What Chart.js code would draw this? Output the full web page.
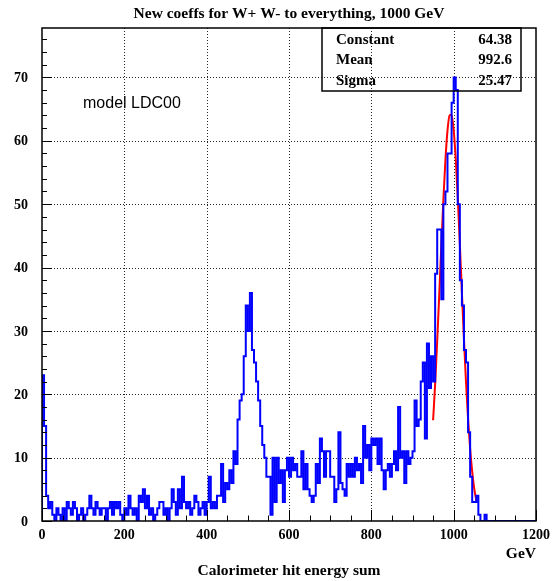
<!DOCTYPE html>
<html>
<head>
<meta charset="utf-8">
<title>Calorimeter hit energy sum</title>
<script src="https://cdn.jsdelivr.net/npm/chart.js@4.4.1/dist/chart.umd.min.js"></script>
<style>
  html, body { margin: 0; padding: 0; background: #fff; }
  #wrap { width: 553px; height: 581px; }
</style>
</head>
<body>
<div id="wrap"><canvas id="histo" width="553" height="581"></canvas></div>
<script>
const title = 'New coeffs for W+ W- to everything, 1000 GeV';
const xTitle = 'Calorimeter hit energy sum';
const xUnit = 'GeV';
const modelLabel = 'model LDC00';

// histogram: 240 bins of 5 GeV from 0 to 1200
const binWidth = 5;
const counts = [
    23, 15, 4, 2, 3, 1, 0, 2, 1, 0,
    2, 0, 3, 2, 1, 3, 2, 0, 1, 2,
    0, 1, 2, 4, 2, 1, 3, 2, 1, 2,
    2, 0, 2, 3, 1, 3, 2, 3, 1, 0,
    2, 1, 4, 2, 1, 2, 0, 4, 3, 5,
    2, 4, 1, 2, 0, 1, 2, 3, 3, 1,
    2, 0, 2, 5, 3, 1, 5, 2, 7, 3,
    2, 3, 1, 2, 4, 3, 1, 2, 3, 1,
    3, 7, 2, 3, 2, 4, 4, 9, 3, 6,
    5, 8, 6, 11, 9, 16, 19, 20, 26, 34,
    30, 36, 27, 25, 22, 19, 15, 12, 10, 7,
    7, 1, 10, 3, 10, 6, 8, 3, 8, 10,
    7, 10, 8, 9, 7, 7, 11, 5, 9, 5,
    4, 3, 4, 9, 6, 13, 11, 7, 11, 11,
    7, 7, 3, 5, 14, 6, 5, 4, 9, 7,
    9, 7, 10, 8, 9, 6, 15, 10, 12, 8,
    13, 12, 13, 9, 13, 8, 5, 8, 9, 7,
    9, 11, 8, 18, 10, 11, 6, 11, 9, 10,
    11, 19, 15, 16, 22, 25, 13, 28, 21, 26,
    22, 39, 46, 46, 35, 50, 52, 58, 58, 66,
    70, 68, 50, 38, 34, 27, 25, 14, 7, 3,
    3, 4, 1, 0, 0, 1, 0, 0, 0, 0,
    0, 0, 0, 0, 0, 0, 0, 0, 0, 0,
    0, 0, 0, 0, 0, 0, 0, 0, 0, 0
];

// gaussian fit curve
const fitX = [950, 955, 960, 965, 970, 975, 980, 985, 990, 995, 1000,
              1005, 1010, 1015, 1020, 1025, 1030, 1035, 1040, 1045, 1050, 1055];
const fitY = [15.9, 21.6, 28.4, 35.8, 43.4, 50.7, 57.0, 61.6, 64.0, 64.1, 61.7,
              57.2, 51.0, 43.7, 36.1, 28.7, 21.9, 16.1, 11.4, 7.8, 5.1, 3.2];

const xTicks = [0, 200, 400, 600, 800, 1000, 1200];
const yTicks = [0, 10, 20, 30, 40, 50, 60, 70];
const statNames = ['Constant', 'Mean', 'Sigma'];
const statValues = ['64.38', '992.6', '25.47'];

const SERIF = '"Liberation Serif", "Times New Roman", serif';
const SANS = '"Liberation Sans", Arial, sans-serif';

// step outline points: start at 0, each bin ends at its right edge
const histPoints = [{ x: 0, y: 0 }];
counts.forEach((c, i) => histPoints.push({ x: (i + 1) * binWidth, y: c }));
const fitPoints = fitX.map((x, i) => ({ x: x, y: fitY[i] }));

const rootFrame = {
    id: 'rootFrame',
    beforeDatasetsDraw(chart) {
        const { ctx, chartArea: a, scales: { x, y } } = chart;
        ctx.save();
        ctx.strokeStyle = 'rgba(0,0,0,0.85)';
        ctx.lineWidth = 1;
        ctx.setLineDash([1, 2]);
        xTicks.forEach(v => {
            if (v === 0 || v === 1200) return;
            const px = Math.round(x.getPixelForValue(v)) + 0.5;
            ctx.beginPath(); ctx.moveTo(px, a.top); ctx.lineTo(px, a.bottom); ctx.stroke();
        });
        yTicks.forEach(v => {
            if (v === 0) return;
            const py = Math.round(y.getPixelForValue(v)) + 0.5;
            ctx.beginPath(); ctx.moveTo(a.left, py); ctx.lineTo(a.right, py); ctx.stroke();
        });
        ctx.restore();
    },
    afterDatasetsDraw(chart) {
        const { ctx, chartArea: a, scales: { x, y } } = chart;
        ctx.save();
        ctx.strokeStyle = '#000';
        ctx.lineWidth = 1.5;
        ctx.strokeRect(a.left, a.top, a.right - a.left, a.bottom - a.top);

        // ticks, inward
        ctx.lineWidth = 1;
        for (let v = 0; v <= 1200; v += 50) {
            const px = Math.round(x.getPixelForValue(v)) + 0.5;
            const len = v % 200 === 0 ? 11 : 5.5;
            ctx.beginPath(); ctx.moveTo(px, a.bottom); ctx.lineTo(px, a.bottom - len); ctx.stroke();
        }
        for (let v = 0; v <= 76; v += 2) {
            const py = Math.round(y.getPixelForValue(v)) + 0.5;
            const len = v % 10 === 0 ? 10 : 5;
            ctx.beginPath(); ctx.moveTo(a.left, py); ctx.lineTo(a.left + len, py); ctx.stroke();
        }

        ctx.fillStyle = '#000';
        ctx.font = 'bold 14px ' + SERIF;
        ctx.textBaseline = 'middle';
        ctx.textAlign = 'right';
        yTicks.forEach(v => ctx.fillText(String(v), a.left - 14, y.getPixelForValue(v) + 1));
        ctx.textAlign = 'center';
        xTicks.forEach(v => ctx.fillText(String(v), x.getPixelForValue(v), a.bottom + 14));

        ctx.font = 'bold 15.5px ' + SERIF;
        ctx.textAlign = 'right';
        ctx.fillText(xUnit, a.right, a.bottom + 33);
        ctx.textAlign = 'center';
        ctx.fillText(xTitle, (a.left + a.right) / 2, a.bottom + 50);
        ctx.fillText(title, (a.left + a.right) / 2, 14);

        // stats box
        const bx = 322, by = a.top, bw = 199, bh = 63;
        ctx.lineWidth = 1.5;
        ctx.strokeRect(bx, by, bw, bh);
        ctx.font = 'bold 15px ' + SERIF;
        statNames.forEach((n, i) => {
            const ty = by + 12 + i * 20.5;
            ctx.textAlign = 'left';
            ctx.fillText(n, bx + 14, ty);
            ctx.textAlign = 'right';
            ctx.fillText(statValues[i], bx + bw - 9, ty);
        });

        ctx.font = '16px ' + SANS;
        ctx.textAlign = 'left';
        ctx.fillText(modelLabel, 83, 104);
        ctx.restore();
    }
};

new Chart(document.getElementById('histo').getContext('2d'), {
    type: 'line',
    data: {
        datasets: [
            {
                label: 'hist',
                data: histPoints,
                stepped: 'after',
                borderColor: '#0000ff',
                borderWidth: 2,
                pointRadius: 0,
                fill: false
            },
            {
                label: 'gaus fit',
                data: fitPoints,
                borderColor: '#ff0000',
                borderWidth: 2,
                pointRadius: 0,
                cubicInterpolationMode: 'monotone',
                fill: false
            }
        ]
    },
    options: {
        responsive: false,
        animation: false,
        devicePixelRatio: 1,
        layout: { padding: { left: 42, right: 17, top: 28, bottom: 60 } },
        plugins: { legend: { display: false }, tooltip: { enabled: false } },
        scales: {
            x: { type: 'linear', min: 0, max: 1200, display: false },
            y: { type: 'linear', min: 0, max: 77.8, display: false }
        }
    },
    plugins: [rootFrame]
});
</script>
</body>
</html>
